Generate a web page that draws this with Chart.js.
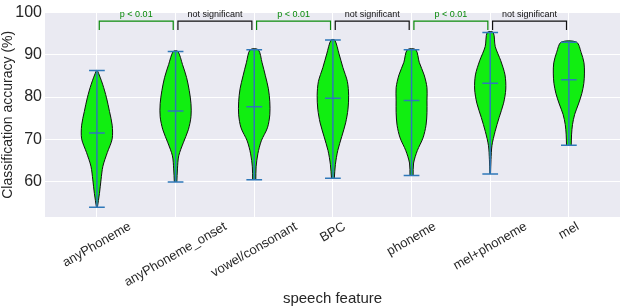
<!DOCTYPE html>
<html>
<head>
<meta charset="utf-8">
<script src="https://cdn.jsdelivr.net/npm/chart.js@4/dist/chart.umd.min.js"></script>
<style>
  body { margin: 0; background: #fff; }
</style>
</head>
<body>
<canvas id="violinChart" width="622" height="306"></canvas>
<script>
// violin data

const categories = ["anyPhoneme", "anyPhoneme_onset", "vowel/consonant", "BPC", "phoneme", "mel+phoneme", "mel"];
const minVals = [53.9, 59.9, 60.4, 60.8, 61.4, 61.8, 68.6];
const maxVals = [86.3, 90.8, 91.2, 93.5, 91.2, 95.3, 93.0];
const medians = [71.5, 76.7, 77.7, 79.7, 79.2, 83.3, 84.1];

// relative half-widths, bottom (min) to top (max), 11 even steps
const densAnyPhoneme = [0.03, 0.16, 0.26, 0.38, 0.66, 0.97, 0.97, 0.80, 0.61, 0.36, 0.03];
const densOnset      = [0.08, 0.12, 0.20, 0.49, 0.81, 0.98, 0.98, 0.87, 0.70, 0.44, 0.15];
const densVowel      = [0.10, 0.12, 0.23, 0.45, 0.84, 0.99, 0.99, 0.90, 0.71, 0.50, 0.26];
const densBPC        = [0.09, 0.16, 0.31, 0.56, 0.81, 0.96, 1.00, 0.92, 0.64, 0.39, 0.12];
const densPhoneme    = [0.10, 0.13, 0.37, 0.73, 0.92, 0.98, 0.98, 0.98, 0.80, 0.49, 0.27];
const densMelPhoneme = [0.02, 0.05, 0.11, 0.31, 0.57, 0.85, 0.99, 0.94, 0.67, 0.32, 0.19];
const densMel        = [0.15, 0.17, 0.23, 0.37, 0.61, 0.82, 0.95, 0.99, 0.96, 0.78, 0.49];
const densities = [densAnyPhoneme, densOnset, densVowel, densBPC, densPhoneme, densMelPhoneme, densMel];

const yTicks = [60, 70, 80, 90, 100];

// significance brackets between neighbours
const bracketPairs = [[0, 1], [1, 2], [2, 3], [3, 4], [4, 5], [5, 6]];
const bracketLabels = ["p < 0.01", "not significant", "p < 0.01", "not significant", "p < 0.01", "not significant"];
const bracketColors = ["#0a8a0a", "#111111", "#0a8a0a", "#111111", "#0a8a0a", "#111111"];
const bracketTop = 98.0;
const bracketFoot = 95.9;

Chart.defaults.font.family = "'Liberation Sans', Arial, sans-serif";
Chart.defaults.color = "#262626";

const halfWidth = 0.2;
const capHalf = 0.1;
const lineBlue = "#2f78b9";

const datasets = [];

categories.forEach((c, i) => {
  const d = densities[i];
  const n = d.length - 1;
  const lv = d.map((_, k) => minVals[i] + (maxVals[i] - minVals[i]) * k / n);
  const right = d.map((w, k) => ({x: i + w * halfWidth, y: lv[k]}));
  const left = d.map((w, k) => ({x: i - w * halfWidth, y: lv[k]})).reverse();
  datasets.push({
    label: c,
    data: right.concat(left),
    showLine: true,
    fill: "shape",
    backgroundColor: "#11ee11",
    borderColor: "#111",
    borderWidth: 1,
    pointRadius: 0,
    tension: 0.3,
    order: 2
  });
  // extrema, range and median lines
  datasets.push({
    label: c + " lines",
    data: [
      {x: i - capHalf, y: minVals[i]}, {x: i + capHalf, y: minVals[i]}, {x: i, y: null},
      {x: i, y: minVals[i]}, {x: i, y: maxVals[i]}, {x: i, y: null},
      {x: i - capHalf, y: maxVals[i]}, {x: i + capHalf, y: maxVals[i]}, {x: i, y: null},
      {x: i - capHalf, y: medians[i]}, {x: i + capHalf, y: medians[i]}
    ],
    showLine: true,
    spanGaps: false,
    borderColor: lineBlue,
    borderWidth: 1.5,
    pointRadius: 0,
    tension: 0,
    order: 0
  });
});

bracketPairs.forEach((p, j) => {
  const a = p[0] + 0.03, b = p[1] - 0.03;
  datasets.push({
    label: bracketLabels[j],
    data: [{x: a, y: bracketFoot}, {x: a, y: bracketTop}, {x: b, y: bracketTop}, {x: b, y: bracketFoot}],
    showLine: true,
    borderColor: bracketColors[j],
    borderWidth: 1.2,
    pointRadius: 0,
    tension: 0,
    order: 1
  });
});

// grey plot background
const plotBg = {
  id: "plotBg",
  beforeDraw(chart) {
    const {ctx, chartArea: a} = chart;
    ctx.save();
    ctx.fillStyle = "#eaeaf2";
    ctx.fillRect(a.left, a.top, a.right - a.left, a.bottom - a.top);
    ctx.restore();
  }
};

// bracket texts and rotated category labels
const labelsPlugin = {
  id: "labelsPlugin",
  afterDraw(chart) {
    const {ctx, chartArea: a} = chart;
    const xs = chart.scales.x, ys = chart.scales.y;
    ctx.save();
    ctx.font = "9px 'Liberation Sans', Arial, sans-serif";
    ctx.textAlign = "center";
    ctx.textBaseline = "bottom";
    bracketPairs.forEach((p, j) => {
      ctx.fillStyle = bracketColors[j];
      ctx.fillText(bracketLabels[j], xs.getPixelForValue((p[0] + p[1]) / 2), ys.getPixelForValue(bracketTop) - 2);
    });
    ctx.font = "13px 'Liberation Sans', Arial, sans-serif";
    ctx.fillStyle = "#262626";
    ctx.textBaseline = "middle";
    categories.forEach((c, i) => {
      const w = ctx.measureText(c).width;
      const boxH = w * 0.5 + 13 * 0.866;
      ctx.save();
      ctx.translate(xs.getPixelForValue(i), a.bottom + 3 + boxH / 2);
      ctx.rotate(-Math.PI / 6);
      ctx.fillText(c, 0, 0);
      ctx.restore();
    });
    ctx.restore();
  }
};

new Chart("violinChart", {
  type: "scatter",
  data: {datasets: datasets},
  options: {
    responsive: false,
    animation: false,
    devicePixelRatio: 1,
    layout: {padding: {top: 7, right: 2, left: 0, bottom: 0}},
    plugins: {legend: {display: false}, tooltip: {enabled: false}},
    scales: {
      x: {
        type: "linear",
        min: -0.66,
        max: 6.65,
        afterBuildTicks: s => { s.ticks = categories.map((c, i) => ({value: i})); },
        afterFit: s => { s.height = 89; },
        grid: {color: "#ffffff", lineWidth: 1, drawTicks: false},
        border: {display: false},
        ticks: {display: false},
        title: {display: true, text: "speech feature", font: {size: 15}, padding: {top: 0, bottom: -2}}
      },
      y: {
        min: 51.6,
        max: 100,
        afterBuildTicks: s => { s.ticks = yTicks.map(v => ({value: v})); },
        afterFit: s => { s.width = 45; },
        grid: {color: "#ffffff", lineWidth: 1, drawTicks: false},
        border: {display: false},
        ticks: {font: {size: 16}, padding: 3},
        title: {display: true, text: "Classification accuracy (%)", font: {size: 14}, padding: {top: 0, bottom: 0}}
      }
    }
  },
  plugins: [plotBg, labelsPlugin]
});
</script>
</body>
</html>
